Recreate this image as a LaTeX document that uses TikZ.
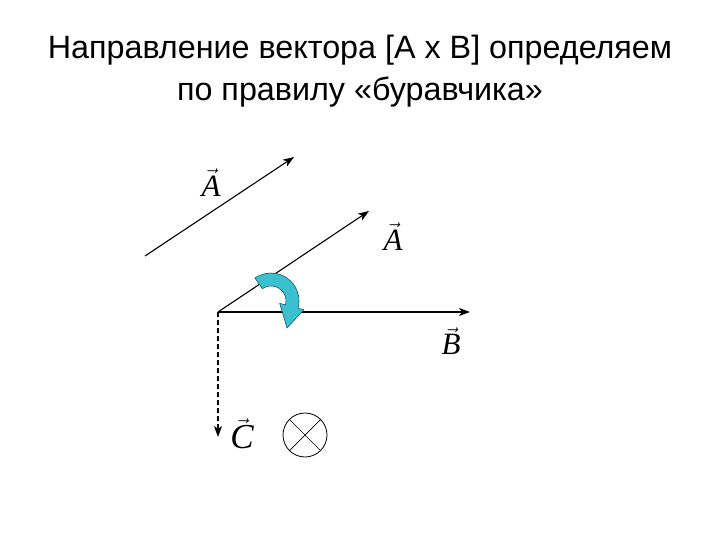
\documentclass[tikz,border=0pt]{standalone}
\usepackage{fontspec}
\setmainfont{Liberation Serif}
\newfontfamily\arial{Liberation Sans}
\usetikzlibrary{arrows.meta,calc}
\begin{document}
\begin{tikzpicture}[x=1pt,y=1pt,
  vec/.style={line width=1.1pt,-{Stealth[length=11pt,width=8pt,inset=3pt]}},
  lbl/.style={font=\fontsize{31}{34}\selectfont},
  ttl/.style={font=\arial\fontsize{32.3}{42}\selectfont,align=center}]
\useasboundingbox (0,0) rectangle (720,-540);
\node[ttl] (title) at (360,-71) {Направление вектора [A x B] определяем\\по правилу «буравчика»};
% vectors
\coordinate (a1s) at (145,-256);
\coordinate (a1e) at (294,-157);
\coordinate (o) at (218,-312);
\coordinate (a2e) at (369,-211);
\coordinate (be) at (470,-312);
\coordinate (ce) at (218,-437);
\draw[vec] (a1s) -- (a1e);
\draw[vec] (o) -- (a2e);
\draw[vec] (o) -- (be);
\draw[vec,dashed,dash pattern=on 5pt off 3pt] (o) -- (ce);
\node[lbl] (la1) at (211,-183) {$\vec{\mbox{\itshape A}}$};
\node[lbl] (la2) at (393,-237) {$\vec{\mbox{\itshape A}}$};
\node[lbl] (lb) at (451,-341) {$\vec{\mbox{\itshape B}}$};
\node[lbl,font=\fontsize{35}{38}\selectfont] (lc) at (242,-434) {$\vec{\mbox{\itshape C}}$};
% circle with cross
\node[circle,draw,line width=0.8pt,minimum size=44pt,inner sep=0pt] (x) at (305,-435) {};
\draw[line width=0.7pt] (x.45) -- (x.225) (x.135) -- (x.315);
% curved arrow
\coordinate (c) at (271,-301);
\draw[fill={rgb,255:red,60;green,192;blue,208},draw={rgb,255:red,20;green,90;blue,110},line width=0.6pt,line join=round]
  ($(c)+(125:28)$) arc[start angle=125,end angle=-15,radius=28]
  -- ($(c)+(-15:34)$) -- (287,-328) -- ($(c)+(-15:9)$) -- ($(c)+(-15:15)$)
  arc[start angle=-15,end angle=125,radius=15] -- cycle;
\end{tikzpicture}
\end{document}
